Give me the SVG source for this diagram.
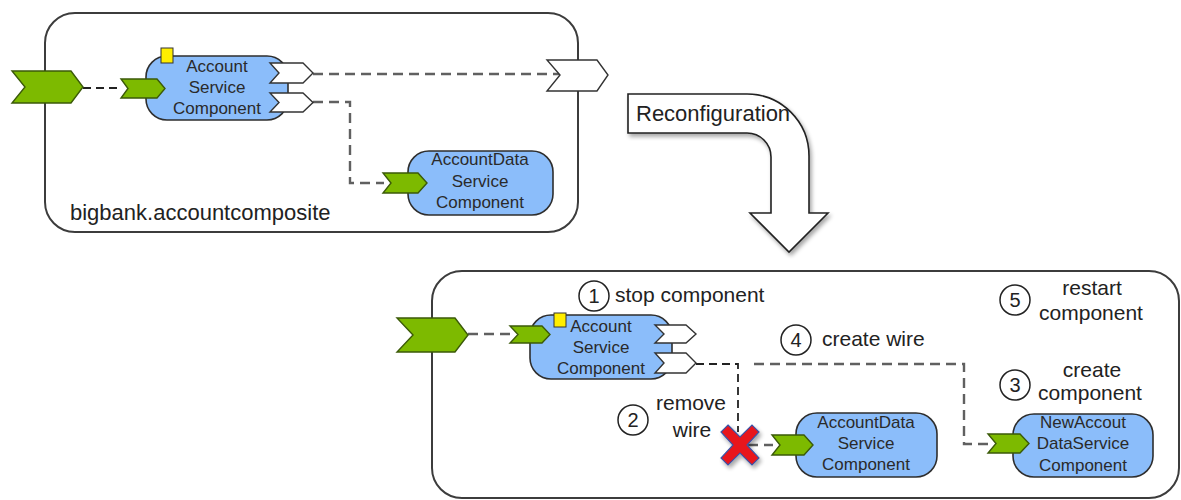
<svg xmlns="http://www.w3.org/2000/svg" width="1181" height="500" viewBox="0 0 1181 500">
<style>
.composite{fill:#fff;stroke:#3c3c3c;stroke-width:2}
.comp{fill:#8bbdfa;stroke:#2e2e2e;stroke-width:1.6}
.gport{fill:#7dba00;stroke:#3b5a08;stroke-width:1.4;stroke-linejoin:miter}
.wport{fill:#fff;stroke:#333;stroke-width:1.4}
.ysq{fill:#ffee00;stroke:#333;stroke-width:1}
.ctext{font-family:"Liberation Sans",Arial,sans-serif;font-size:17px;fill:#2a2a2a;text-anchor:middle}
.label{font-family:"Liberation Sans",Arial,sans-serif;font-size:21px;fill:#222}
.lc{text-anchor:middle}
.big{font-family:"Liberation Sans",Arial,sans-serif;font-size:22px;fill:#222}
.num{fill:#fff;stroke:#222;stroke-width:1.5}
.numt{font-family:"Liberation Sans",Arial,sans-serif;font-size:20px;fill:#222;text-anchor:middle}
.wire{fill:none;stroke:#606060;stroke-width:2.4;stroke-dasharray:10 6}
.wire2{fill:none;stroke:#222;stroke-width:1.8;stroke-dasharray:8 5}
</style>
<defs>
<filter id="sh" x="-20%" y="-20%" width="150%" height="150%">
<feGaussianBlur in="SourceAlpha" stdDeviation="2"/>
<feOffset dx="2" dy="3" result="o"/>
<feComponentTransfer><feFuncA type="linear" slope="0.35"/></feComponentTransfer>
<feMerge><feMergeNode/><feMergeNode in="SourceGraphic"/></feMerge>
</filter>
</defs>

<!-- composites -->
<g id="composite-top">
<rect class="composite" x="45" y="13" width="533" height="219" rx="30"/>
<text class="big" x="70" y="220">bigbank.accountcomposite</text>
</g>
<g id="composite-bottom">
<rect class="composite" x="432" y="271" width="747" height="227" rx="30"/>
</g>

<!-- connectors -->
<g id="connectors">
<path class="wire2" d="M83 88 H121"/>
<path class="wire" d="M313 74 H560"/>
<path class="wire" d="M313 102 H350 V183 H384"/>
<path class="wire" d="M468 334 H511"/>
<path class="wire2" d="M696 364 H738 V432"/>
<path class="wire" d="M754 364 H964 V444 H989"/>
<path class="wire" d="M748 445 H773"/>
</g>

<!-- top composite contents -->
<g id="top-service-port">
<polygon class="gport" points="12,71 71,71 83,87 71,103 12,103 25,87"/>
</g>
<g id="top-reference-port">
<polygon class="wport" points="547,60 597,60 608,75 597,91 547,91 560,75"/>
</g>
<g id="top-account-service">
<rect class="comp" x="146" y="56" width="142" height="64" rx="21"/>
<rect class="ysq" x="161" y="48" width="12" height="15"/>
<polygon class="gport" points="121,79 157,79 165,88.5 157,98 121,98 128,88.5"/>
<polygon class="wport" points="270,63 303,63 313,73 303,83 270,83 279,73"/>
<polygon class="wport" points="270,93 303,93 313,102.5 303,112 270,112 279,102.5"/>
<text class="ctext" x="217" y="72">Account</text>
<text class="ctext" x="217" y="93">Service</text>
<text class="ctext" x="217" y="114">Component</text>
</g>
<g id="top-accountdata">
<rect class="comp" x="408" y="151" width="145" height="64" rx="21"/>
<polygon class="gport" points="383,173 418,173 427,183 418,193 383,193 391,183"/>
<text class="ctext" x="480" y="165">AccountData</text>
<text class="ctext" x="480" y="187">Service</text>
<text class="ctext" x="480" y="208">Component</text>
</g>

<!-- reconfiguration arrow -->
<g id="reconfiguration">
<path d="M628 94 H747 A62 62 0 0 1 809 156 V213 H828 L789 252 L750 213 H771 V157 A24 24 0 0 0 747 133 H628 Z" fill="#fff" stroke="#222" stroke-width="1.6" filter="url(#sh)"/>
<text class="big" x="636" y="121">Reconfiguration</text>
</g>

<!-- bottom composite contents -->
<g id="bottom-service-port">
<polygon class="gport" points="397,318 455,318 468,335 455,352 397,352 413,335"/>
</g>
<g id="bottom-account-service">
<rect class="comp" x="530" y="315" width="142" height="64" rx="21"/>
<rect class="ysq" x="554" y="313" width="12" height="14"/>
<polygon class="gport" points="510,326 542,326 550,334.5 542,343 510,343 518,334.5"/>
<polygon class="wport" points="655,325 686,325 696,334 686,343 655,343 664,334"/>
<polygon class="wport" points="655,353 686,353 696,363 686,373 655,373 664,363"/>
<text class="ctext" x="601" y="332">Account</text>
<text class="ctext" x="601" y="353">Service</text>
<text class="ctext" x="601" y="374">Component</text>
</g>
<g id="bottom-accountdata">
<rect class="comp" x="796" y="413" width="141" height="64" rx="21"/>
<polygon class="gport" points="772,435 804,435 813,445 804,455 772,455 780,445"/>
<text class="ctext" x="866" y="428">AccountData</text>
<text class="ctext" x="866" y="449">Service</text>
<text class="ctext" x="866" y="470">Component</text>
</g>
<g id="new-accountdata">
<rect class="comp" x="1013" y="414" width="140" height="63" rx="21"/>
<polygon class="gport" points="988,434 1020,434 1029,443.5 1020,453 988,453 996,443.5"/>
<text class="ctext" x="1083" y="428">NewAccout</text>
<text class="ctext" x="1083" y="449">DataService</text>
<text class="ctext" x="1083" y="471">Component</text>
</g>

<!-- removed-wire mark -->
<g id="remove-mark" filter="url(#sh)">
<polygon points="728,425 740,437 752,425 759,432 747,445 759,458 752,465 740,453 728,465 721,458 733,445 721,432" fill="#e8141b" stroke="#3a55a8" stroke-width="1.2"/>
</g>

<!-- step labels -->
<g id="step1">
<circle class="num" cx="594" cy="296" r="15"/>
<text class="numt" x="594" y="303">1</text>
<text class="label" x="615" y="302">stop component</text>
</g>
<g id="step2">
<circle class="num" cx="633" cy="420" r="15"/>
<text class="numt" x="633" y="427">2</text>
<text class="label lc" x="691" y="410">remove</text>
<text class="label lc" x="692" y="437">wire</text>
</g>
<g id="step3">
<circle class="num" cx="1015" cy="385" r="15"/>
<text class="numt" x="1015" y="392">3</text>
<text class="label lc" x="1092" y="377">create</text>
<text class="label lc" x="1090" y="400">component</text>
</g>
<g id="step4">
<circle class="num" cx="796" cy="340" r="15"/>
<text class="numt" x="796" y="347">4</text>
<text class="label" x="822" y="346">create wire</text>
</g>
<g id="step5">
<circle class="num" cx="1015" cy="300" r="15"/>
<text class="numt" x="1015" y="307">5</text>
<text class="label lc" x="1092" y="295">restart</text>
<text class="label lc" x="1091" y="320">component</text>
</g>
</svg>
